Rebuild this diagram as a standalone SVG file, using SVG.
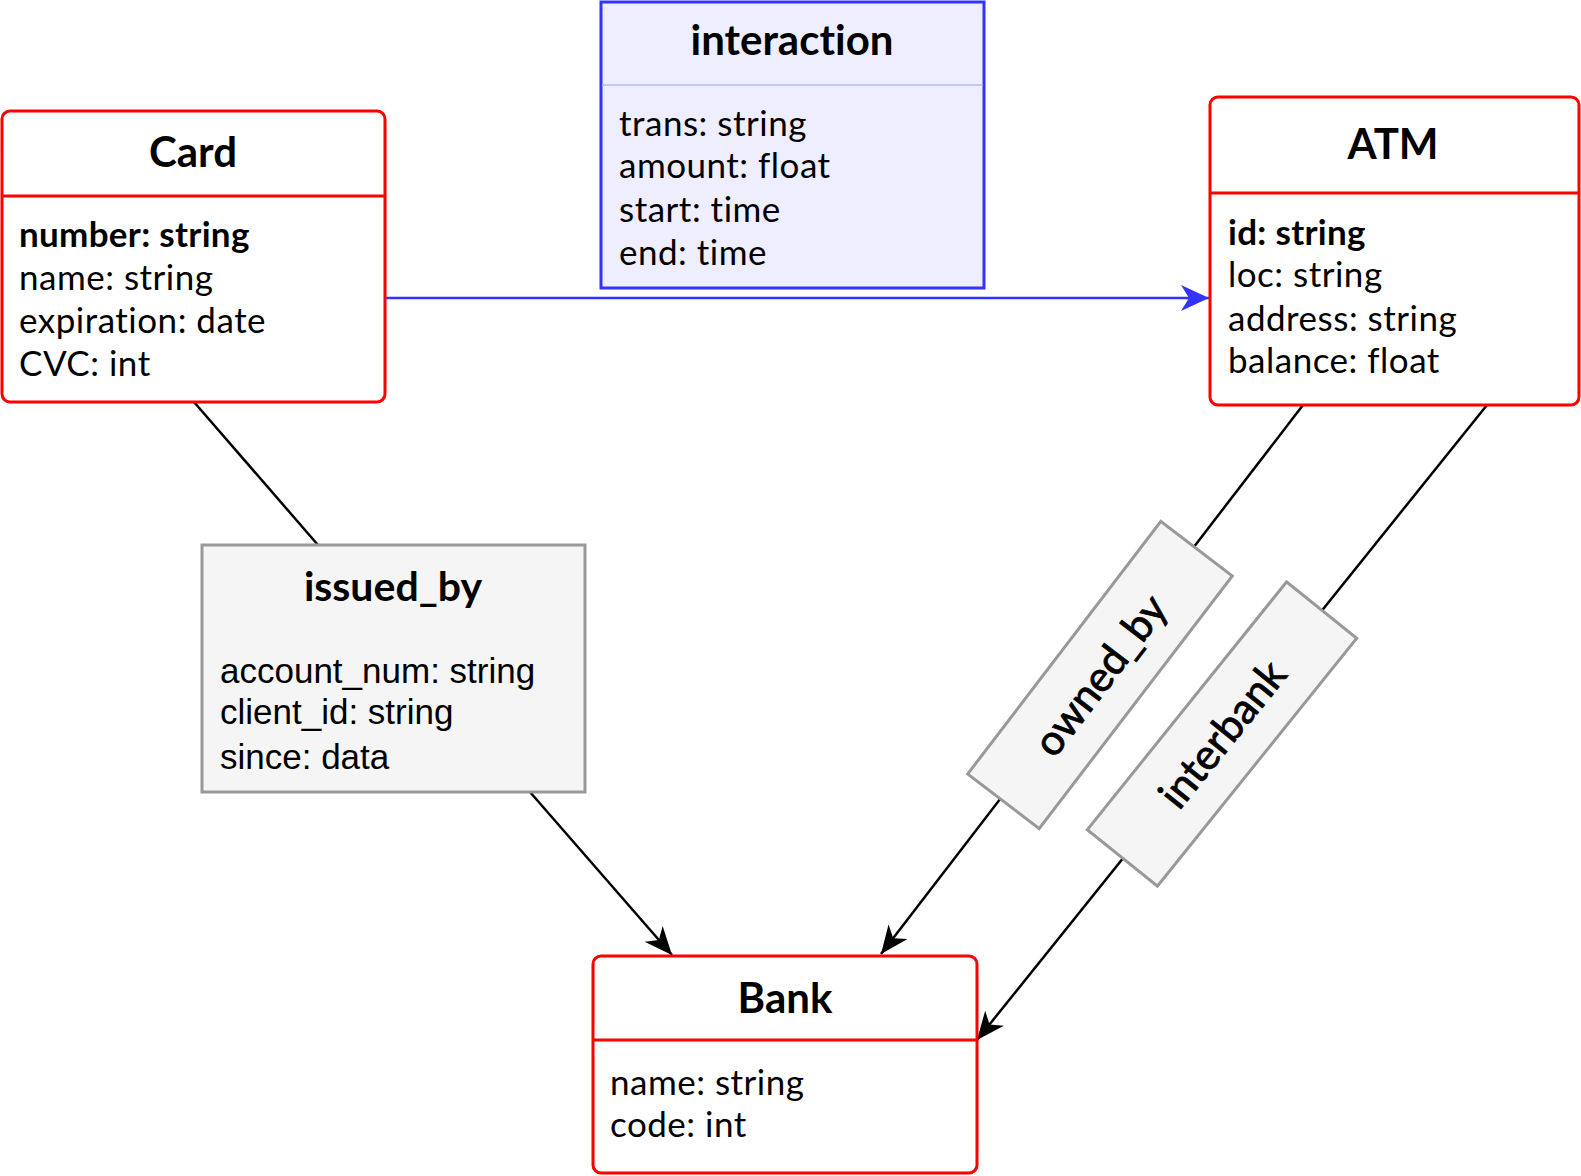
<svg xmlns="http://www.w3.org/2000/svg" width="1581" height="1176" viewBox="0 0 1581 1176">
  <style>
    text { font-variant-ligatures: none; }
    .entity { fill: #ffffff; stroke: #ff0000; stroke-width: 3; }
    .div { stroke: #ff0000; stroke-width: 3; }
    .title { font-family: Lato, "Liberation Sans", sans-serif; font-weight: bold; font-size: 42px; fill: #000; text-anchor: middle; }
    .attr { font-family: Lato, "Liberation Sans", sans-serif; font-size: 35px; letter-spacing: 0.5px; fill: #000; }
    .attrb { font-family: Lato, "Liberation Sans", sans-serif; font-size: 35px; letter-spacing: 0.3px; font-weight: bold; fill: #000; }
    .arial { font-family: "Liberation Sans", Arial, sans-serif; font-size: 35px; fill: #000; }
    .rel { fill: #f5f5f5; stroke: #999999; stroke-width: 3; }
    .lbl { font-family: Lato, "Liberation Sans", sans-serif; font-size: 42px; fill: #000; stroke: #000; stroke-width: 0.8; text-anchor: middle; }
    .conn { fill: none; stroke: #000; stroke-width: 2.5; }
  </style>
  <defs>
    <marker id="arrBlack" markerUnits="userSpaceOnUse" markerWidth="30" markerHeight="26" viewBox="0 0 30 26" refX="28" refY="13" orient="auto">
      <path d="M0,1 L28,13 L0,25 L8,13 Z" fill="#000"/>
    </marker>
    <marker id="arrBlue" markerUnits="userSpaceOnUse" markerWidth="30" markerHeight="28" viewBox="0 0 30 28" refX="28" refY="14" orient="auto">
      <path d="M0,1 L28,14 L0,27 L8,14 Z" fill="#3333ff"/>
    </marker>
  </defs>

  <g id="connectors">
    <line x1="385" y1="298" x2="1209" y2="298" stroke="#3333ff" stroke-width="2.5" marker-end="url(#arrBlue)"/>
    <line class="conn" x1="194" y1="402" x2="318" y2="545"/>
    <line class="conn" x1="530" y1="792" x2="672" y2="955" marker-end="url(#arrBlack)"/>
    <line class="conn" x1="1303" y1="405" x2="881" y2="954" marker-end="url(#arrBlack)"/>
    <line class="conn" x1="1487" y1="405" x2="977" y2="1040" marker-end="url(#arrBlack)"/>
  </g>

  <g id="card">
    <rect class="entity" x="2" y="111" width="383" height="291" rx="8"/>
    <line class="div" x1="2" y1="196" x2="385" y2="196"/>
    <text class="title" x="193" y="167">Card</text>
    <text class="attrb" x="19" y="247">number: string</text>
    <text class="attr" x="19" y="290">name: string</text>
    <text class="attr" x="19" y="333">expiration: date</text>
    <text class="attr" x="19" y="376">CVC: int</text>
  </g>

  <g id="interaction">
    <rect x="601" y="2" width="383" height="286" fill="#eeeeff" stroke="#3333ff" stroke-width="3"/>
    <line x1="602" y1="85" x2="983" y2="85" stroke="#b3bbee" stroke-width="1.5"/>
    <text class="title" x="792" y="55">interaction</text>
    <text class="attr" x="619" y="136">trans: string</text>
    <text class="attr" x="619" y="178">amount: float</text>
    <text class="attr" x="619" y="222">start: time</text>
    <text class="attr" x="619" y="265">end: time</text>
  </g>

  <g id="atm">
    <rect class="entity" x="1210" y="97" width="369" height="308" rx="8"/>
    <line class="div" x1="1210" y1="193" x2="1579" y2="193"/>
    <text class="title" x="1393" y="159">ATM</text>
    <text class="attrb" x="1228" y="245">id: string</text>
    <text class="attr" x="1228" y="287">loc: string</text>
    <text class="attr" x="1228" y="331">address: string</text>
    <text class="attr" x="1228" y="373">balance: float</text>
  </g>

  <g id="issued_by">
    <rect class="rel" x="202" y="545" width="383" height="247"/>
    <text class="title" x="393" y="601" style="font-size:41px">issued_by</text>
    <text class="arial" x="220" y="683">account_num: string</text>
    <text class="arial" x="220" y="724">client_id: string</text>
    <text class="arial" x="220" y="769">since: data</text>
  </g>

  <g id="owned_by" transform="translate(1100,675) rotate(-52.6)">
    <rect class="rel" x="-159" y="-45" width="318" height="90"/>
    <text class="lbl" x="0" y="15">owned_by</text>
  </g>

  <g id="interbank" transform="translate(1222,734) rotate(-51.2)">
    <rect class="rel" x="-159" y="-45" width="318" height="90"/>
    <text class="lbl" x="0" y="15">interbank</text>
  </g>

  <g id="bank">
    <rect class="entity" x="593" y="956" width="384" height="217" rx="8"/>
    <line class="div" x1="593" y1="1040" x2="977" y2="1040"/>
    <text class="title" x="785" y="1013">Bank</text>
    <text class="attr" x="610" y="1095">name: string</text>
    <text class="attr" x="610" y="1137">code: int</text>
  </g>
</svg>
